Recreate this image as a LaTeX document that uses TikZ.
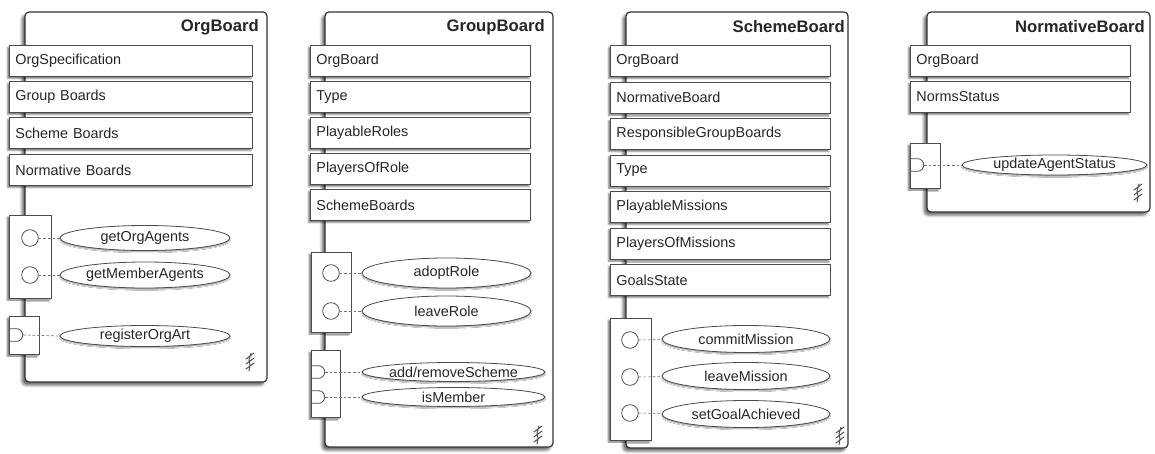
\documentclass[tikz,border=0pt]{standalone}
\usepackage{fontspec}
\setmainfont{Liberation Sans}
\usetikzlibrary{fit,shapes.geometric,shapes.misc,shadows.blur}

\tikzset{
  board/.style={draw=black!80, line width=0.9pt, fill=white, rounded corners=3pt, inner sep=0pt,
    blur shadow={shadow xshift=-2.2pt, shadow yshift=-2.4pt, shadow blur radius=2pt, shadow opacity=60}},
  boardtitle/.style={font=\fontsize{12.5pt}{14pt}\selectfont\bfseries, anchor=east, inner sep=0pt, text=black!85},
  field/.style={draw=black!70, line width=0.6pt, fill=white, anchor=west, minimum height=23.4pt,
    inner xsep=4.5pt, inner ysep=0pt, text width=#1, align=left, text=black!85,
    font=\fontsize{10.8pt}{12pt}\selectfont,
    blur shadow={shadow xshift=-1.5pt, shadow yshift=-1.5pt, shadow blur radius=1pt, shadow opacity=50}},
  ibox/.style={draw=black!70, line width=0.6pt, fill=white, inner sep=0pt,
    blur shadow={shadow xshift=-1.5pt, shadow yshift=-1.5pt, shadow blur radius=1pt, shadow opacity=50}},
  cport/.style={draw=black!70, circle, minimum size=12.5pt, inner sep=0pt, line width=0.6pt},
  dport/.style={draw=black!70, rounded rectangle, rounded rectangle left arc=none, minimum width=10pt,
    minimum height=9.5pt, inner sep=0pt, anchor=west, line width=0.6pt},
  op/.style={draw=black!70, ellipse, fill=white, inner sep=0pt, line width=0.6pt, text=black!85,
    font=\fontsize{10.8pt}{12pt}\selectfont,
    blur shadow={shadow xshift=0pt, shadow yshift=-1pt, shadow blur radius=0.8pt, shadow opacity=40}},
  ow/.style={minimum width=#1*0.75pt},
  oh/.style={minimum height=#1*0.75pt},
  conn/.style={draw=black!55, dash pattern=on 2pt off 1.5pt, line width=0.5pt},
  boardicon/.pic={
    \draw[black!70, line width=0.7pt, line cap=round]
      (-4,-3)--(4,-9) (-4,2)--(4,-4) (-4,7)--(4,1)
      (-1,9)--(0,3)--(-1,-2)--(1,-9);
  }
}

\begin{document}
\begin{tikzpicture}[x=0.75pt, y=-0.75pt]
\useasboundingbox (0,0) rectangle (1155,453);

% ================= OrgBoard =================
\node[board, fit={(25,12) (267,382)}] (ob) {};
\node[boardtitle] (obt) at (259,27) {OrgBoard};
\node[field=173.25pt] (ob1) at (9,61) {OrgSpecification};
\node[field=173.25pt] (ob2) at (9,97) {Group Boards};
\node[field=173.25pt] (ob3) at (9,133) {Scheme Boards};
\node[field=173.25pt] (ob4) at (9,170) {Normative Boards};
\node[ibox, fit={(9,215) (51,298)}] (obi1) {};
\node[cport] (obc1) at (30,238) {};
\node[cport] (obc2) at (30,275) {};
\node[op, ow=170, oh=25] (obe1) at (145,238) {getOrgAgents};
\node[op, ow=170, oh=26] (obe2) at (145,275) {getMemberAgents};
\node[ibox, fit={(9,316) (39,354)}] (obi2) {};
\node[dport] (obd1) at (9,335) {};
\node[op, ow=170, oh=21] (obe3) at (145,336) {registerOrgArt};
\draw[conn] (obc1) -- (obe1);
\draw[conn] (obc2) -- (obe2);
\draw[conn] (obd1.east) -- (obe3.west);
\pic at (250,362) {boardicon};

% ================= GroupBoard =================
\node[board, fit={(325,12) (553,447)}] (gb) {};
\node[boardtitle] (gbt) at (545,27) {GroupBoard};
\node[field=156pt] (gb1) at (310,61) {OrgBoard};
\node[field=156pt] (gb2) at (310,97) {Type};
\node[field=156pt] (gb3) at (310,133) {PlayableRoles};
\node[field=156pt] (gb4) at (310,169) {PlayersOfRole};
\node[field=156pt] (gb5) at (310,205) {SchemeBoards};
\node[ibox, fit={(311,252) (351,332)}] (gbi1) {};
\node[cport] (gbc1) at (331,273) {};
\node[cport] (gbc2) at (331,311) {};
\node[op, ow=169, oh=30] (gbe1) at (446.5,273) {adoptRole};
\node[op, ow=169, oh=30] (gbe2) at (446.5,311) {leaveRole};
\node[ibox, fit={(311,350) (340,417)}] (gbi2) {};
\node[dport] (gbd1) at (311,372) {};
\node[dport] (gbd2) at (311,397) {};
\node[op, ow=183, oh=19] (gbe3) at (453.5,372) {add/removeScheme};
\node[op, ow=183, oh=19] (gbe4) at (453.5,397) {isMember};
\draw[conn] (gbc1) -- (gbe1);
\draw[conn] (gbc2) -- (gbe2);
\draw[conn] (gbd1.east) -- (gbe3.west);
\draw[conn] (gbd2.east) -- (gbe4.west);
\pic at (538,435) {boardicon};

% ================= SchemeBoard =================
\node[board, fit={(626,12) (848,448)}] (sb) {};
\node[boardtitle] (sbt) at (845,27) {SchemeBoard};
\node[field=156pt] (sb1) at (610,61) {OrgBoard};
\node[field=156pt] (sb2) at (610,97.5) {NormativeBoard};
\node[field=156pt] (sb3) at (610,134) {ResponsibleGroupBoards};
\node[field=156pt] (sb4) at (610,170.5) {Type};
\node[field=156pt] (sb5) at (610,207) {PlayableMissions};
\node[field=156pt] (sb6) at (610,243.5) {PlayersOfMissions};
\node[field=156pt] (sb7) at (610,280) {GoalsState};
\node[ibox, fit={(610,318) (651,440)}] (sbi1) {};
\node[cport] (sbc1) at (630,340) {};
\node[cport] (sbc2) at (630,377) {};
\node[cport] (sbc3) at (630,413) {};
\node[op, ow=168, oh=27] (sbe1) at (746,339) {commitMission};
\node[op, ow=168, oh=27] (sbe2) at (746,376) {leaveMission};
\node[op, ow=168, oh=27] (sbe3) at (746,414) {setGoalAchieved};
\draw[conn] (sbc1) -- (sbe1);
\draw[conn] (sbc2) -- (sbe2);
\draw[conn] (sbc3) -- (sbe3);
\pic at (840,436) {boardicon};

% ================= NormativeBoard =================
\node[board, fit={(927,12) (1150,212)}] (nb) {};
\node[boardtitle] (nbt) at (1145,27) {NormativeBoard};
\node[field=156pt] (nb1) at (910,61) {OrgBoard};
\node[field=156pt] (nb2) at (910,97) {NormsStatus};
\node[ibox, fit={(910,143) (940,188)}] (nbi1) {};
\node[dport] (nbd1) at (910,165) {};
\node[op, ow=185, oh=20] (nbe1) at (1054.5,165) {updateAgentStatus};
\draw[conn] (nbd1.east) -- (nbe1.west);
\pic at (1138,193) {boardicon};

\end{tikzpicture}
\end{document}
